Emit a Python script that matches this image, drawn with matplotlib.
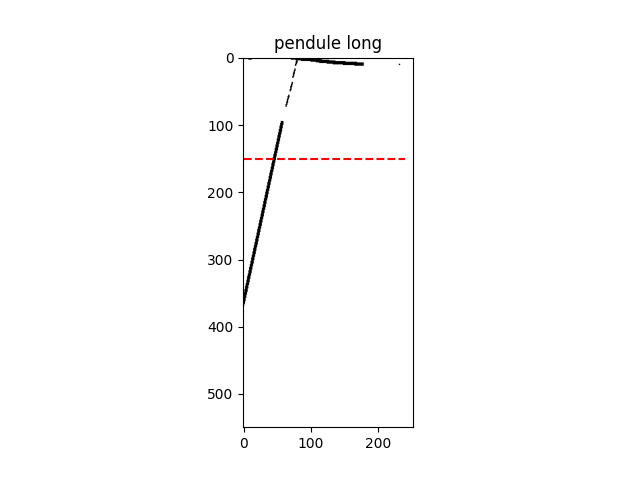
import numpy as np
import matplotlib
matplotlib.use("Agg")
import matplotlib.pyplot as plt

# image size (rows, cols)
img_h, img_w = 550, 252

# pendulum segments: x0, y0, x1, y1, thickness (px)
seg_x0 = [0, 64, 70, 74, 78, 72, 80, 110, 140, 0]
seg_y0 = [368, 73, 50, 30, 12, 3, 3, 5, 8, 1]
seg_x1 = [58, 68, 73, 77, 81, 95, 110, 140, 176, 12]
seg_y1 = [97, 57, 38, 18, 3, 3, 5, 8, 10, 3]
seg_w = [4, 2, 2, 2, 2, 2, 4, 5, 5, 2]

# isolated dot
dot_x = [231]
dot_y = [10]

# threshold line
thresh_y = 150
thresh_x = [0, 240]


def rasterize():
    img = np.ones((img_h, img_w))
    for x0, y0, x1, y1, w in zip(seg_x0, seg_y0, seg_x1, seg_y1, seg_w):
        n = int(max(abs(x1 - x0), abs(y1 - y0)) * 2) + 1
        xs = np.linspace(x0, x1, n)
        ys = np.linspace(y0, y1, n)
        for dx in range(w):
            for dy in range(w):
                c = np.clip(np.round(xs + dx - w // 2).astype(int), 0, img_w - 1)
                r = np.clip(np.round(ys + dy - w // 2).astype(int), 0, img_h - 1)
                img[r, c] = 0
    for x, y in zip(dot_x, dot_y):
        img[y:y + 2, x:x + 2] = 0
    return img


image = rasterize()

fig, ax = plt.subplots(figsize=(6.4, 4.8), dpi=100)
ax.imshow(image, cmap="gray", vmin=0, vmax=1)
ax.plot(thresh_x, [thresh_y, thresh_y], "r--")
ax.set_title("pendule long")
fig.savefig("out.png")
